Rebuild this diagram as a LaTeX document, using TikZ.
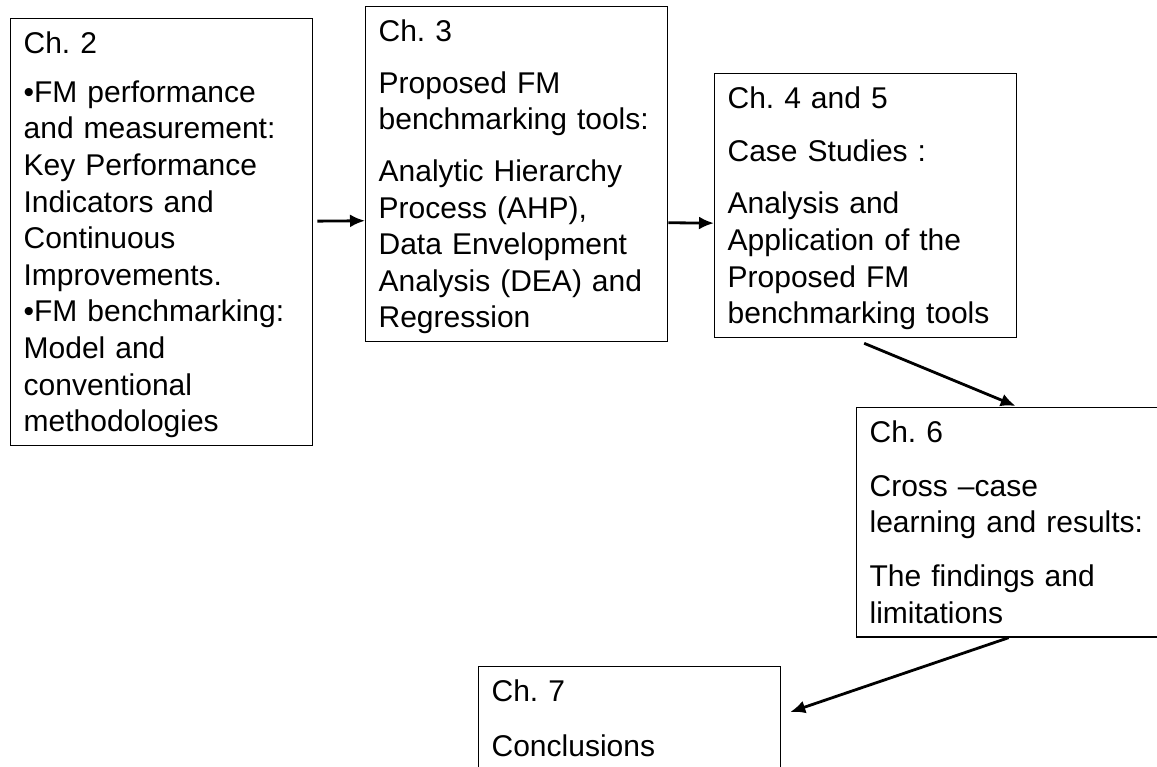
\documentclass[tikz,border=0pt]{standalone}
\usepackage{fontspec}
\setmainfont{Liberation Sans}
\usetikzlibrary{arrows.meta}
\frenchspacing

\begin{document}
\begin{tikzpicture}[x=1pt,y=-1pt,
		chbox/.style={draw, line width=1.3pt, anchor=north west, text width=276pt, inner xsep=13pt, inner ysep=0pt, align=left,
			font=\fontsize{30}{36.6}\selectfont,
			execute at begin node={\rule{0pt}{35pt}}, execute at end node={\rule[-14pt]{0pt}{14pt}}},
		arr/.style={line width=2.8pt, -{Latex[length=15pt,width=13pt]}}]
				\useasboundingbox (0,0) rectangle (1157,767);
				\node[chbox] (ch2) at (10,18) {Ch. 2\\[12pt] •FM performance\\ and measurement:\\ Key Performance\\ Indicators and\\ Continuous\\ Improvements.\\ •FM benchmarking:\\ Model and\\ conventional\\ methodologies};
				\node[chbox] (ch3) at (365,6) {Ch. 3\\[15pt] Proposed FM\\ benchmarking tools:\\[15pt] Analytic Hierarchy\\ Process (AHP),\\ Data Envelopment\\ Analysis (DEA) and\\ Regression};
				\node[chbox] (ch4) at (714,73) {Ch. 4 and 5\\[16pt] Case Studies :\\[16pt] Analysis and\\ Application of the\\ Proposed FM\\ benchmarking tools};
				\node[chbox] (ch6) at (856,407) {Ch. 6\\[17pt] Cross –case\\ \mbox{learning and results:}\\[17pt] The findings and\\ limitations};
				\node[chbox] (ch7) at (478,666) {Ch. 7\\[18pt] Conclusions};

			\draw[arr] ([shift={(4,-11)}]ch2.east) -- ([shift={(0,46.5)}]ch3.west);
			\draw[arr] ([shift={(0,48.5)}]ch3.east) -- ([shift={(0,17.5)}]ch4.west);
			\draw[arr] ([shift={(-1.5,5)}]ch4.south) -- ([shift={(8,-1)}]ch6.north);
			\draw[arr] ([shift={(1,0)}]ch6.south) -- ([shift={(9,46)}]ch7.north east);
		\end{tikzpicture}
\end{document}
